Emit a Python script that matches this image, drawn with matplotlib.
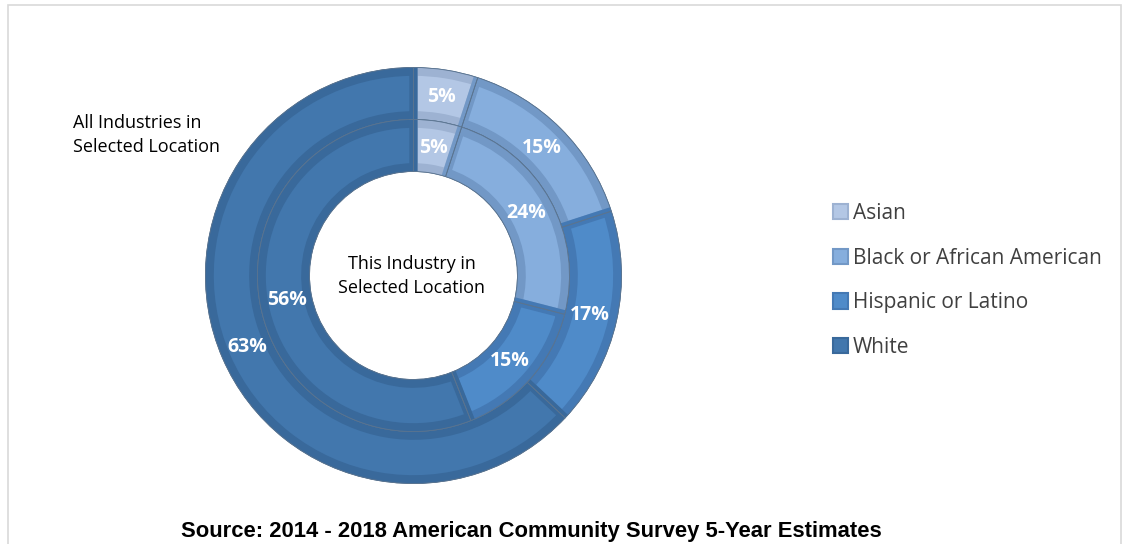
import numpy as np
import matplotlib.pyplot as plt
from matplotlib.patches import Patch, Rectangle

# data
groups = ["Asian", "Black or African American", "Hispanic or Latino", "White"]
all_industries = [5, 15, 17, 63]
this_industry = [5, 24, 15, 56]

face_colors = ["#b3c7e5", "#86aedd", "#4f8bc9", "#4277ad"]
edge_colors = ["#9db2d2", "#7298c6", "#4479b4", "#39699b"]

FONT = ["Open Sans", "DejaVu Sans"]

fig = plt.figure(figsize=(11.24, 5.44), dpi=100)

# light frame around the chart area
fig.patches.append(Rectangle((8 / 1124, -0.05), (1121 - 8) / 1124, 1.05 - 5 / 544,
                             transform=fig.transFigure, fill=False,
                             edgecolor="#d9d9d9", linewidth=1.2))

# donut centre ~ (413, 275) px, outer radius ~208 px
ax = fig.add_axes([0.1828, 0.1112, 0.3701, 0.7647])


def ring(values, radius, width, label_r):
    # darker bevel band
    ax.pie(values, radius=radius, startangle=90, counterclock=False,
           colors=edge_colors,
           wedgeprops=dict(width=width, edgecolor="#5a7490", linewidth=0.6))
    # lighter face inset into each slice
    inset = 0.02
    faces, _ = ax.pie(values, radius=radius - inset, startangle=90,
                      counterclock=False, colors=face_colors,
                      wedgeprops=dict(width=width - 2 * inset, linewidth=6))
    for w, ec in zip(faces, edge_colors):
        w.set_edgecolor(ec)
    # thin separators on top
    ax.pie(values, radius=radius, startangle=90, counterclock=False,
           colors=["none"] * len(values),
           wedgeprops=dict(width=width, edgecolor="#5a7490", linewidth=0.6, fill=False))
    total = sum(values)
    start = 90.0
    for v in values:
        mid = np.deg2rad(start - v / total * 180)
        ax.text(label_r * np.cos(mid), label_r * np.sin(mid), f"{v}%",
                ha="center", va="center", color="white", fontsize=14,
                fontweight="bold", family=FONT)
        start -= v / total * 360


ring(all_industries, 1.0, 0.25, 0.87)
ring(this_industry, 0.75, 0.25, 0.62)

ax.set_xlim(-1, 1)
ax.set_ylim(-1, 1)
ax.set_aspect("equal")
ax.axis("off")

fig.text(73 / 1124, 1 - 135 / 544, "All Industries in\nSelected Location",
         ha="left", va="center", fontsize=13, color="black",
         family=FONT, linespacing=1.4)
fig.text(412 / 1124, 1 - 276 / 544, "This Industry in\nSelected Location",
         ha="center", va="center", fontsize=13, color="black",
         family=FONT, linespacing=1.4)

handles = [Patch(facecolor=fc, edgecolor=ec, linewidth=1.5)
           for fc, ec in zip(face_colors, edge_colors)]
leg = fig.legend(handles, groups, loc="upper left",
                 bbox_to_anchor=(814 / 1124, 1 - 184 / 544), frameon=False,
                 labelspacing=1.14, handlelength=0.75,
                 handleheight=0.75, handletextpad=0.2,
                 prop=dict(family=FONT, size=15))
for t in leg.get_texts():
    t.set_color("#404040")

fig.text(531 / 1124, 1 - 531 / 544,
         "Source: 2014 - 2018 American Community Survey 5-Year Estimates",
         ha="center", va="center", fontsize=15.8, fontweight="bold",
         family=["Liberation Sans", "DejaVu Sans"], color="black")

fig.savefig("out.png", dpi=100)
